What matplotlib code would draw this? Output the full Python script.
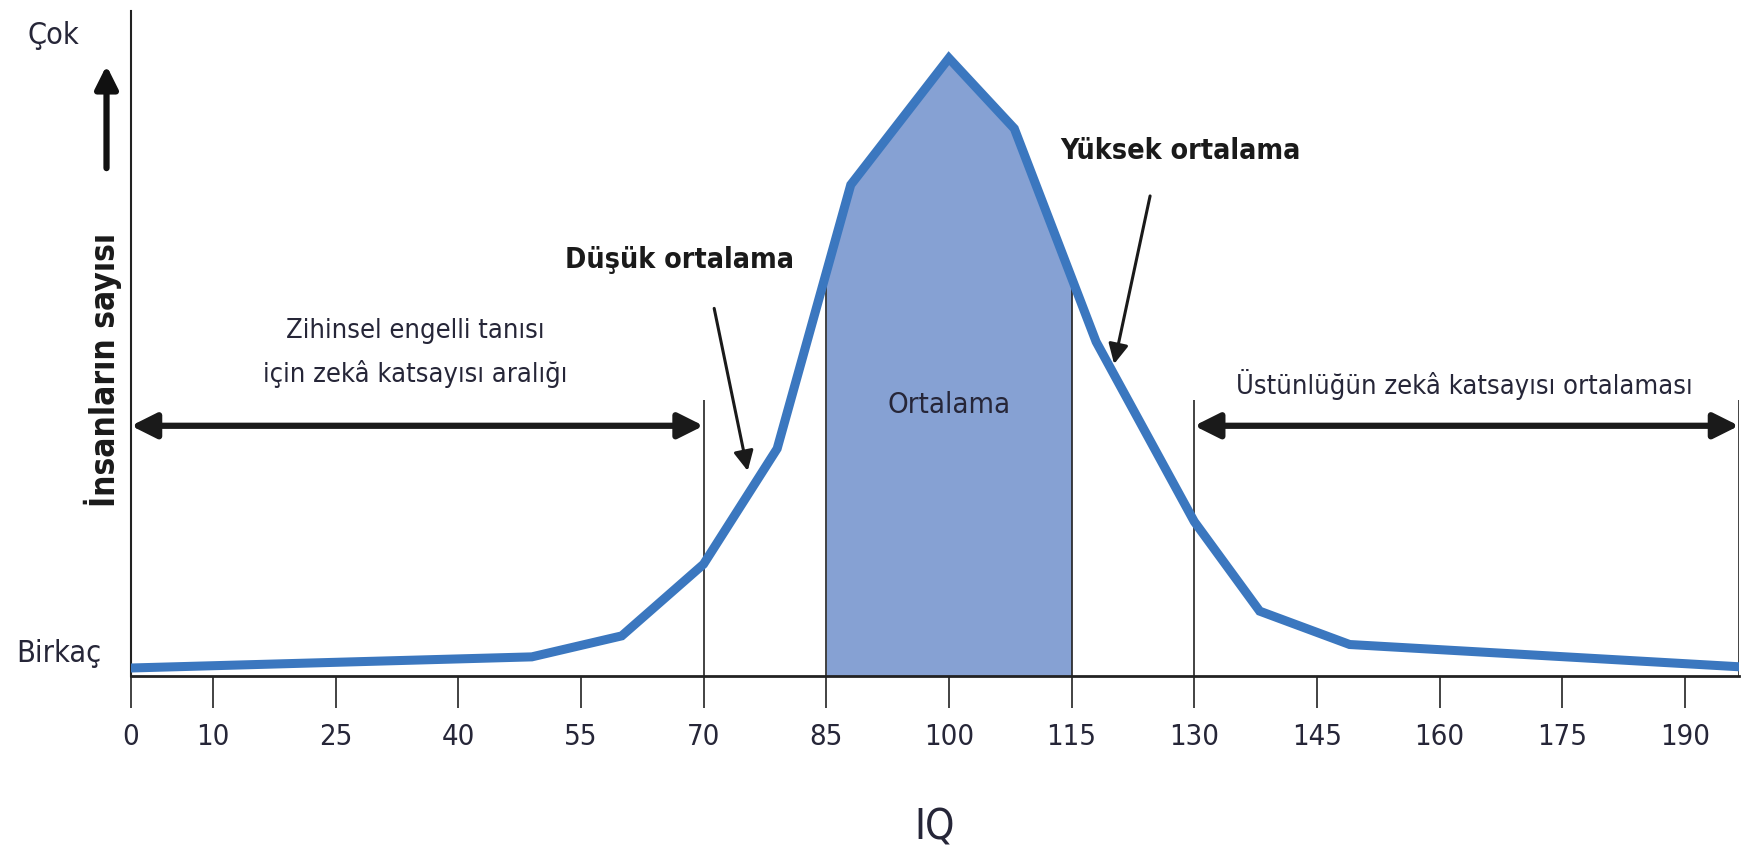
import numpy as np
import matplotlib
matplotlib.use("Agg")
import matplotlib.pyplot as plt
from matplotlib import font_manager

# narrow font if we have one
names = {f.name for f in font_manager.fontManager.ttflist}
if 'Liberation Sans Narrow' in names:
    FONT = 'Liberation Sans Narrow'
    STRETCH = 'normal'
else:
    FONT = 'DejaVu Sans'
    STRETCH = 'condensed'
plt.rcParams['font.family'] = [FONT, 'DejaVu Sans']

# curve (count in % of the peak)
iq = [0, 49, 60, 70, 79, 88, 100, 108, 118, 130, 138, 149, 196.6]
count = [1.3, 3.1, 6.5, 18.1, 36.8, 79.5, 100, 88.6, 54.1, 25.0, 10.5, 5.1, 1.5]

tick_iq = [0, 10, 25, 40, 55, 70, 85, 100, 115, 130, 145, 160, 175, 190]
avg_lo, avg_hi = 85, 115
low_end, high_start, x_end = 70, 130, 196.6

line_col = '#3b77bf'
fill_col = '#86a1d3'
txt_col = '#262638'

fig = plt.figure(figsize=(17.59, 8.48), dpi=100)
ax = fig.add_axes([0.0745, 0.2028, 0.9141, 0.784])

# shaded average band
xs = np.linspace(avg_lo, avg_hi, 200)
ax.fill_between(xs, 0, np.interp(xs, iq, count), color=fill_col, lw=0, zorder=1)
ax.vlines([avg_lo, avg_hi], 0, np.interp([avg_lo, avg_hi], iq, count),
          color='#222222', lw=1.2, zorder=2)

ax.plot(iq, count, color=line_col, lw=6.5, solid_joinstyle='miter', zorder=3)

# range markers
ax.vlines([low_end, high_start, x_end], 0, 44.6, color='#222222', lw=1.2, zorder=2)
arrow_kw = dict(arrowstyle='<|-|>', color='#1a1a1a', lw=4.5, mutation_scale=38,
                shrinkA=0, shrinkB=0)
ax.annotate('', xy=(low_end, 40.5), xytext=(0, 40.5), arrowprops=arrow_kw)
ax.annotate('', xy=(x_end, 40.5), xytext=(high_start, 40.5), arrowprops=arrow_kw)

fs = 19.5
ax.text(34.7, 52.3, 'Zihinsel engelli tanısı\niçin zekâ katsayısı aralığı', ha='center',
        va='center', fontsize=fs, color=txt_col, linespacing=1.75, fontstretch=STRETCH)
ax.text(163, 47.2, 'Üstünlüğün zekâ katsayısı ortalaması', ha='center', va='center',
        fontsize=fs, color=txt_col, fontstretch=STRETCH)
ax.text(100, 43.8, 'Ortalama', ha='center', va='center', fontsize=21, color=txt_col,
        fontstretch=STRETCH)

# pointer labels
ptr_kw = dict(arrowstyle='-|>', color='#1a1a1a', lw=2.2, mutation_scale=30,
              shrinkA=0, shrinkB=0)
ax.text(67, 67.3, 'Düşük ortalama', ha='center', va='center', fontsize=20.5,
        fontweight='bold', color='#1a1a1a', fontstretch=STRETCH)
ax.annotate('', xy=(75.4, 33.2), xytext=(71.3, 59.5), arrowprops=ptr_kw)
ax.text(128.3, 84.9, 'Yüksek ortalama', ha='center', va='center', fontsize=20.5,
        fontweight='bold', color='#1a1a1a', fontstretch=STRETCH)
ax.annotate('', xy=(120.2, 50.5), xytext=(124.6, 77.7), arrowprops=ptr_kw)

# y side labels
ax.text(-9.5, 103.6, 'Çok', ha='center', va='center', fontsize=22, color=txt_col,
        fontstretch=STRETCH, clip_on=False)
ax.text(-8.8, 3.6, 'Birkaç', ha='center', va='center', fontsize=22, color=txt_col,
        fontstretch=STRETCH, clip_on=False)
ax.text(-3.4, 49.5, 'İnsanların sayısı', rotation=90, ha='center', va='center',
        fontsize=24, fontweight='bold', color='#1a1a1a', fontstretch=STRETCH, clip_on=False)
ax.annotate('', xy=(-3.0, 98.8), xytext=(-3.0, 82.2), annotation_clip=False,
            arrowprops=dict(arrowstyle='-|>', color='#111111', lw=4.5,
                            mutation_scale=34, shrinkA=0, shrinkB=0))

ax.set_xlim(0, x_end)
ax.set_ylim(0, 107.6)
ax.set_xticks(tick_iq)
ax.set_xticklabels([str(t) for t in tick_iq], fontsize=21, color=txt_col,
                   fontstretch=STRETCH)
ax.set_yticks([])
ax.tick_params(axis='x', direction='out', length=23, width=1.2, color='#222222', pad=11)
for s in ['top', 'right']:
    ax.spines[s].set_visible(False)
ax.spines['left'].set_linewidth(1.5)
ax.spines['bottom'].set_linewidth(2)
ax.spines['left'].set_color('#222222')
ax.spines['bottom'].set_color('#222222')
ax.set_xlabel('IQ', fontsize=30, color=txt_col, labelpad=40, fontstretch=STRETCH)

plt.savefig('out.png', dpi=100)
